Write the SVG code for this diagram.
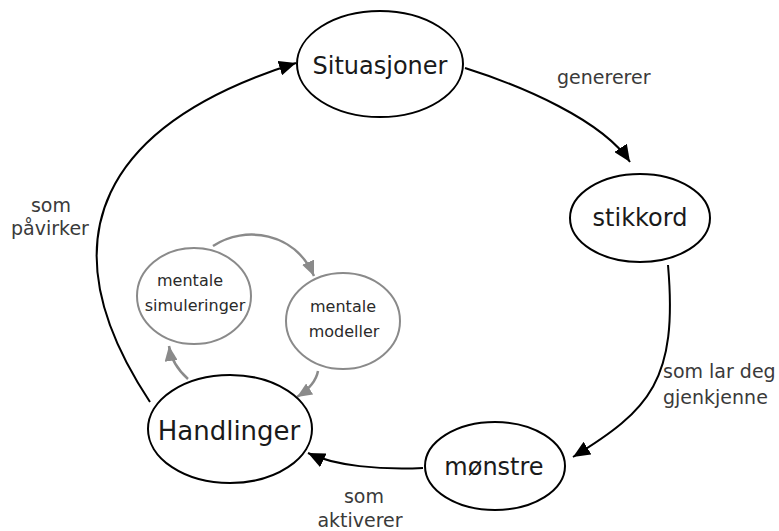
<svg xmlns="http://www.w3.org/2000/svg" width="779" height="531" viewBox="0 0 779 531">
  <style>
    .main ellipse { fill: #fff; stroke: #000; stroke-width: 2; }
    .inner ellipse { fill: #fff; stroke: #8a8a8a; stroke-width: 2; }
    .ntext { font-family: "DejaVu Sans", "Liberation Sans", sans-serif; fill: #1a1a1a; text-anchor: middle; }
    .itext { font-family: "DejaVu Sans", "Liberation Sans", sans-serif; font-size: 16px; fill: #2a2a2a; text-anchor: middle; }
    .label { font-family: "DejaVu Sans", "Liberation Sans", sans-serif; font-size: 19px; fill: #3a3a3a; }
    .edge { fill: none; stroke: #000; stroke-width: 2; }
    .gedge { fill: none; stroke: #8a8a8a; stroke-width: 2.5; }
  </style>
  <defs>
    <marker id="arrow" markerUnits="userSpaceOnUse" markerWidth="17" markerHeight="15" refX="17" refY="7.5" orient="auto">
      <path d="M0,0 L17,7.5 L0,15 z" fill="#000"/>
    </marker>
    <marker id="garrow" markerUnits="userSpaceOnUse" markerWidth="15" markerHeight="13" refX="15" refY="6.5" orient="auto">
      <path d="M0,0 L15,6.5 L0,13 z" fill="#8a8a8a"/>
    </marker>
  </defs>
  <rect width="779" height="531" fill="#fff"/>

  <!-- connectors -->
  <g id="connectors">
    <path class="edge" d="M465,68 C522,86 602,120 630,162" marker-end="url(#arrow)"/>
    <path class="edge" d="M668,265 C678,380 650,410 573,457" marker-end="url(#arrow)"/>
    <path class="edge" d="M423,468 C380,470 335,466 308,453" marker-end="url(#arrow)"/>
    <path class="edge" d="M150,402 C40,236 106,123 296,63" marker-end="url(#arrow)"/>
    <path class="gedge" d="M213,246 C245,225 295,232 314,276" marker-end="url(#garrow)"/>
    <path class="gedge" d="M318,371 C316,382 308,390 297,397" marker-end="url(#garrow)"/>
    <path class="gedge" d="M188,379 C178,370 171,360 169,346" marker-end="url(#garrow)"/>
  </g>

  <!-- connector labels -->
  <g id="labels">
    <text class="label" x="557" y="84">genererer</text>
    <text class="label" x="663" y="378">som lar deg</text>
    <text class="label" x="663" y="404">gjenkjenne</text>
    <text class="label" x="364" y="503" text-anchor="middle">som</text>
    <text class="label" x="360" y="527" text-anchor="middle">aktiverer</text>
    <text class="label" x="51" y="212" text-anchor="middle">som</text>
    <text class="label" x="50" y="235" text-anchor="middle">påvirker</text>
  </g>

  <!-- main cycle nodes -->
  <g id="situasjoner" class="main">
    <ellipse cx="380" cy="64" rx="83" ry="53"/>
    <text class="ntext" x="380" y="74" font-size="24">Situasjoner</text>
  </g>
  <g id="stikkord" class="main">
    <ellipse cx="640" cy="218" rx="70" ry="44"/>
    <text class="ntext" x="640" y="226" font-size="24">stikkord</text>
  </g>
  <g id="monstre" class="main">
    <ellipse cx="495" cy="466" rx="70" ry="44"/>
    <text class="ntext" x="494" y="475" font-size="24">mønstre</text>
  </g>
  <g id="handlinger" class="main">
    <ellipse cx="230" cy="429" rx="82" ry="54"/>
    <text class="ntext" x="229" y="440" font-size="26">Handlinger</text>
  </g>

  <!-- inner loop nodes -->
  <g id="mentale-simuleringer" class="inner">
    <ellipse cx="194" cy="296" rx="57" ry="48"/>
    <text class="itext" x="190" y="286">mentale</text>
    <text class="itext" x="195" y="311">simuleringer</text>
  </g>
  <g id="mentale-modeller" class="inner">
    <ellipse cx="343" cy="321" rx="57" ry="48"/>
    <text class="itext" x="343" y="312">mentale</text>
    <text class="itext" x="344" y="337">modeller</text>
  </g>
</svg>
